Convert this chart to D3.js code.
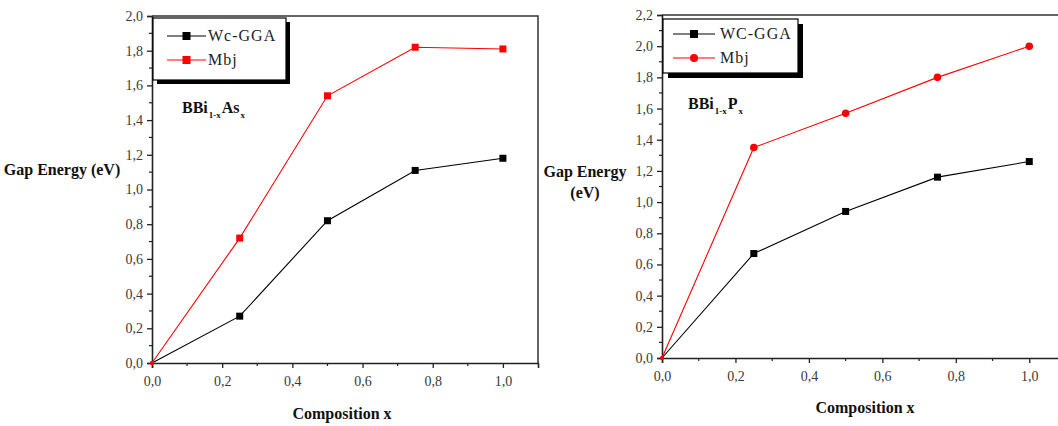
<!DOCTYPE html>
<html>
<head>
<meta charset="utf-8">
<script src="https://cdn.jsdelivr.net/npm/d3@7"></script>
<style>
  html, body { margin: 0; padding: 0; background: #fff; }
  svg { display: block; }
</style>
</head>
<body>
<svg id="chart" width="1058" height="426"></svg>
<script>
// Composition x values shared by both panels
const composition = [0, 0.25, 0.5, 0.75, 1.0];

// BBi(1-x)As(x) band gaps (eV)
const asWcGga = [0, 0.27, 0.82, 1.11, 1.18];
const asMbj   = [0, 0.72, 1.54, 1.82, 1.81];

// BBi(1-x)P(x) band gaps (eV)
const pWcGga = [0, 0.67, 0.94, 1.16, 1.26];
const pMbj   = [0, 1.35, 1.57, 1.80, 2.00];

// Tick values
const xTicks = [0, 0.2, 0.4, 0.6, 0.8, 1.0];
const xMinor = [0.1, 0.3, 0.5, 0.7, 0.9];
const yTicksAs = [0, 0.2, 0.4, 0.6, 0.8, 1.0, 1.2, 1.4, 1.6, 1.8, 2.0];
const yTicksP  = [0, 0.2, 0.4, 0.6, 0.8, 1.0, 1.2, 1.4, 1.6, 1.8, 2.0, 2.2];

const seriesNamesAs = ["Wc-GGA", "Mbj"];
const seriesNamesP  = ["WC-GGA", "Mbj"];

const svg = d3.select("#chart");
const comma = d => d3.format(".1f")(d).replace(".", ",");
const SERIF = "\"Liberation Serif\", \"Times New Roman\", Times, Tinos, \"Nimbus Roman\", FreeSerif, \"DejaVu Serif\", \"Noto Serif\", serif";

function panel(cfg) {
  const g = svg.append("g");
  const x = d3.scaleLinear().domain([0, 1.1]).range([cfg.left, cfg.right]);
  const y = d3.scaleLinear().domain([0, cfg.yMax]).range([cfg.bottom, cfg.top]);

  // frame: top and right edges
  g.append("path")
    .attr("d", `M${x(0)},${y(cfg.yMax)}H${x(1.1)}V${y(0)}`)
    .attr("fill", "none").attr("stroke", "#333").attr("stroke-width", 1.5);

  // minor ticks
  const yMinor = d3.range(0.1, cfg.yMax, 0.2);
  g.append("g").selectAll("line").data(yMinor).join("line")
    .attr("x1", x(0) - 3).attr("x2", x(0))
    .attr("y1", d => y(d)).attr("y2", d => y(d))
    .attr("stroke", "#222").attr("stroke-width", 1.2);
  g.append("g").selectAll("line").data(xMinor).join("line")
    .attr("x1", d => x(d)).attr("x2", d => x(d))
    .attr("y1", y(0)).attr("y2", y(0) + 3)
    .attr("stroke", "#222").attr("stroke-width", 1.2);

  // axes
  const xAxis = g.append("g").attr("transform", `translate(0,${y(0)})`)
    .call(d3.axisBottom(x).tickValues(xTicks).tickFormat(comma).tickSize(5).tickPadding(8));
  const yAxis = g.append("g").attr("transform", `translate(${x(0)},0)`)
    .call(d3.axisLeft(y).tickValues(cfg.yTicks).tickFormat(comma).tickSize(5).tickPadding(4));
  [xAxis, yAxis].forEach(a => {
    a.attr("font-family", null);
    a.select(".domain").attr("stroke", "#222").attr("stroke-width", 1.6);
    a.selectAll(".tick line").attr("stroke", "#222").attr("stroke-width", 1.3);
    a.selectAll(".tick text")
      .style("font-family", SERIF)
      .attr("font-size", 14).attr("fill", "#3a3a3a");
  });

  // data lines and markers
  cfg.series.forEach(s => {
    const pts = composition.map((c, i) => [c, s.values[i]]);
    g.append("path").datum(pts)
      .attr("d", d3.line().x(d => x(d[0])).y(d => y(d[1])))
      .attr("fill", "none").attr("stroke", s.color).attr("stroke-width", 1.1);
    const m = g.append("g").selectAll("g").data(pts.slice(1)).join("g")
      .attr("transform", d => `translate(${x(d[0])},${y(d[1])})`);
    if (s.shape === "circle") {
      m.append("circle").attr("r", 3.8).attr("fill", s.color);
    } else {
      m.append("rect").attr("x", -3.5).attr("y", -3.5).attr("width", 7).attr("height", 7).attr("fill", s.color);
    }
    g.append("circle").attr("cx", x(0)).attr("cy", y(0)).attr("r", 2).attr("fill", "#f00");
  });

  // legend with drop shadow
  const L = cfg.legend;
  g.append("rect").attr("x", L.x + L.sh).attr("y", L.y + L.sh).attr("width", L.w).attr("height", L.h).attr("fill", "#000");
  g.append("rect").attr("x", L.x).attr("y", L.y).attr("width", L.w).attr("height", L.h)
    .attr("fill", "#fff").attr("stroke", "#000").attr("stroke-width", 1.2);
  cfg.series.forEach((s, i) => {
    const ly = L.rows[i];
    g.append("line").attr("x1", L.l0).attr("x2", L.l1).attr("y1", ly).attr("y2", ly)
      .attr("stroke", s.color).attr("stroke-width", 1.2);
    const mx = (L.l0 + L.l1) / 2;
    if (s.shape === "circle") {
      g.append("circle").attr("cx", mx).attr("cy", ly).attr("r", 4).attr("fill", s.color);
    } else {
      g.append("rect").attr("x", mx - 4).attr("y", ly - 4).attr("width", 8).attr("height", 8).attr("fill", s.color);
    }
    g.append("text").attr("x", L.tx).attr("y", ly + 5)
      .style("font-family", SERIF)
      .attr("font-size", 16).attr("letter-spacing", 1.0).attr("fill", "#222")
      .text(s.name);
  });

  // compound label with subscripts
  const t = g.append("text").attr("x", cfg.label.x).attr("y", cfg.label.y)
    .style("font-family", SERIF)
    .attr("font-size", 16).attr("font-weight", "bold").attr("fill", "#111");
  cfg.label.parts.forEach(p => {
    const ts = t.append("tspan").text(p.t);
    if (p.sub) ts.attr("font-size", 9).attr("dy", 5).attr("dx", 1);
    else if (p.back) ts.attr("dy", -5).attr("dx", 1);
  });

  // axis titles
  cfg.yTitle.forEach(yt => {
    g.append("text").attr("x", yt.x).attr("y", yt.y).attr("text-anchor", "middle")
      .style("font-family", SERIF)
      .attr("font-size", 16).attr("font-weight", "bold").attr("fill", "#111").text(yt.t);
  });
  g.append("text").attr("x", cfg.xTitle.x).attr("y", cfg.xTitle.y).attr("text-anchor", "middle")
    .style("font-family", SERIF)
    .attr("font-size", 16).attr("font-weight", "bold").attr("fill", "#111").text("Composition x");
}

panel({
  left: 152, right: 538, top: 16, bottom: 363, yMax: 2.0, yTicks: yTicksAs,
  series: [
    { name: seriesNamesAs[0], values: asWcGga, color: "#000", shape: "square" },
    { name: seriesNamesAs[1], values: asMbj, color: "#f00", shape: "square" }
  ],
  legend: { x: 153, y: 18, w: 133, h: 62, sh: 4, rows: [36, 60], l0: 167, l1: 206, tx: 208 },
  label: { x: 182, y: 113, parts: [{ t: "BBi" }, { t: "1-x", sub: true }, { t: "As", back: true }, { t: "x", sub: true }] },
  yTitle: [{ t: "Gap Energy (eV)", x: 62, y: 175 }],
  xTitle: { x: 342, y: 419 }
});

panel({
  left: 662, right: 1066, top: 15, bottom: 358, yMax: 2.2, yTicks: yTicksP,
  series: [
    { name: seriesNamesP[0], values: pWcGga, color: "#000", shape: "square" },
    { name: seriesNamesP[1], values: pMbj, color: "#f00", shape: "circle" }
  ],
  legend: { x: 663, y: 19, w: 135, h: 54, sh: 5, rows: [34, 58], l0: 673, l1: 715, tx: 720 },
  label: { x: 688, y: 109, parts: [{ t: "BBi" }, { t: "1-x", sub: true }, { t: "P", back: true }, { t: "x", sub: true }] },
  yTitle: [{ t: "Gap Energy", x: 585, y: 177 }, { t: "(eV)", x: 585, y: 198 }],
  xTitle: { x: 865, y: 413 }
});
</script>
</body>
</html>
